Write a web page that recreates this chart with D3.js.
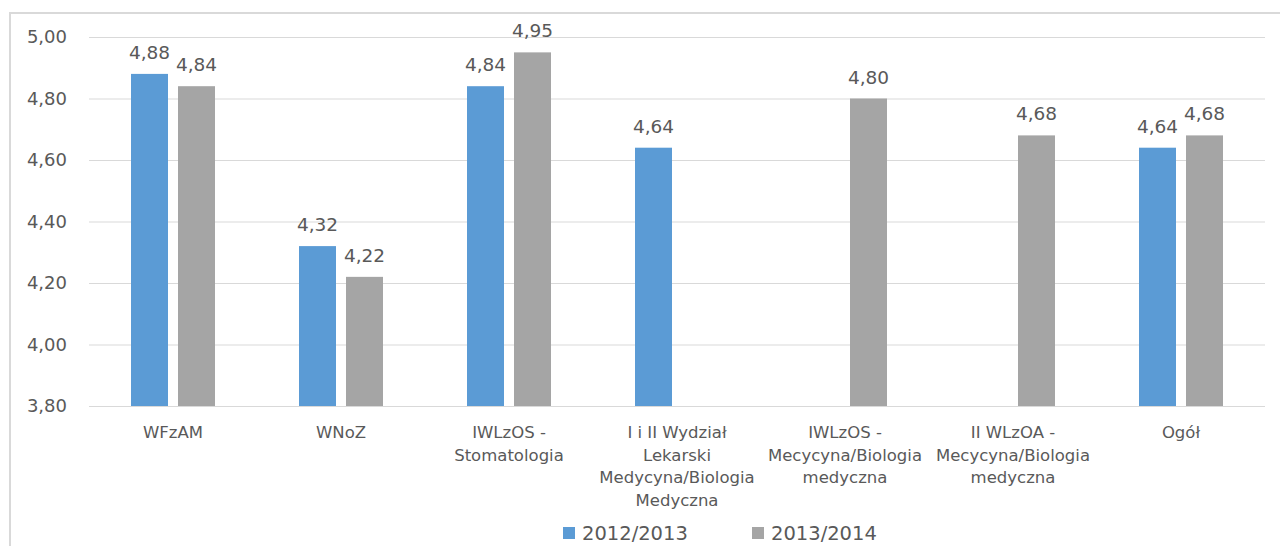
<!DOCTYPE html>
<html>
<head>
<meta charset="utf-8">
<script src="https://cdn.jsdelivr.net/npm/d3@7"></script>
<style>
  html, body { margin: 0; padding: 0; background: #fff; }
  svg { display: block; }
  text { font-family: "DejaVu Sans", "Open Sans", sans-serif; fill: #595959; }
</style>
</head>
<body>
<svg id="chart" width="1280" height="546"></svg>
<script>
// Categories (multi-line names separated by \n)
const categories = [
  "WFzAM",
  "WNoZ",
  "IWLzOS -\nStomatologia",
  "I i II Wydział\nLekarski\nMedycyna/Biologia\nMedyczna",
  "IWLzOS -\nMecycyna/Biologia\nmedyczna",
  "II WLzOA -\nMecycyna/Biologia\nmedyczna",
  "Ogół"
];
const seriesNames = ["2012/2013", "2013/2014"];
const values2012 = [4.88, 4.32, 4.84, 4.64, null, null, 4.64];
const values2013 = [4.84, 4.22, 4.95, null, 4.80, 4.68, 4.68];
const yTicks = [3.8, 4.0, 4.2, 4.4, 4.6, 4.8, 5.0];
const colors = ["#5B9BD5", "#A5A5A5"];

const svg = d3.select("#chart");
const plot = { left: 89, right: 1265, top: 37, bottom: 406 };

const pl = d3.formatLocale({ decimal: ",", thousands: " ", grouping: [3], currency: ["", " zł"] });
const fmt = pl.format(".2f");

// Outer chart frame (only top and left edges fall inside the viewport)
svg.append("rect")
  .attr("x", 10).attr("y", 13)
  .attr("width", 1300).attr("height", 600)
  .attr("fill", "none")
  .attr("stroke", "#D9D9D9")
  .attr("stroke-width", 2);

const y = d3.scaleLinear().domain([3.8, 5.0]).range([plot.bottom, plot.top]);
const x0 = d3.scaleBand().domain(categories).range([plot.left, plot.right]).padding(0);
const x1 = d3.scaleBand().domain(seriesNames)
  .range([x0.bandwidth() * 0.25, x0.bandwidth() * 0.75])
  .paddingInner(0.213).paddingOuter(0);

// Gridlines and value-axis labels
const yAxis = d3.axisLeft(y).tickValues(yTicks).tickFormat(fmt)
  .tickSize(-(plot.right - plot.left)).tickPadding(22);
const gy = svg.append("g").attr("transform", `translate(${plot.left},0)`).call(yAxis);
gy.select(".domain").remove();
gy.selectAll(".tick line").attr("stroke", "#D9D9D9").attr("stroke-width", 1);
gy.selectAll(".tick text")
  .attr("font-size", "18px")
  .attr("fill", "#595959")
  .attr("font-family", "DejaVu Sans, Open Sans, sans-serif");

// Bars
const rows = categories.map((c, i) => ({ cat: c, vals: [values2012[i], values2013[i]] }));
const groups = svg.append("g").selectAll("g").data(rows).join("g")
  .attr("transform", d => `translate(${x0(d.cat)},0)`);

const barData = d => d.vals
  .map((v, j) => ({ v, name: seriesNames[j], j }))
  .filter(e => e.v != null);

groups.selectAll("rect").data(barData).join("rect")
  .attr("x", e => x1(e.name))
  .attr("width", x1.bandwidth())
  .attr("y", e => y(e.v))
  .attr("height", e => y(3.8) - y(e.v))
  .attr("fill", e => colors[e.j]);

// Data labels
groups.selectAll("text.val").data(barData).join("text")
  .attr("class", "val")
  .attr("x", e => x1(e.name) + x1.bandwidth() / 2)
  .attr("y", e => y(e.v) - 15)
  .attr("text-anchor", "middle")
  .attr("font-size", "18.5px")
  .text(e => fmt(e.v));

// Category labels
const xlab = svg.append("g").selectAll("text").data(categories).join("text")
  .attr("x", d => x0(d) + x0.bandwidth() / 2)
  .attr("y", 438)
  .attr("text-anchor", "middle")
  .attr("font-size", "16.5px");
xlab.each(function (d) {
  const t = d3.select(this);
  d.split("\n").forEach((line, k) => {
    t.append("tspan")
      .attr("x", x0(d) + x0.bandwidth() / 2)
      .attr("dy", k === 0 ? 0 : 22.5)
      .text(line);
  });
});

// Legend
const legendX = [563, 752];
const legend = svg.append("g").selectAll("g").data(seriesNames).join("g")
  .attr("transform", (d, i) => `translate(${legendX[i]},527)`);
legend.append("rect")
  .attr("width", 12).attr("height", 12)
  .attr("fill", (d, i) => colors[i]);
legend.append("text")
  .attr("x", 19).attr("y", 12.5)
  .attr("font-size", "19.5px")
  .text(d => d);
</script>
</body>
</html>
